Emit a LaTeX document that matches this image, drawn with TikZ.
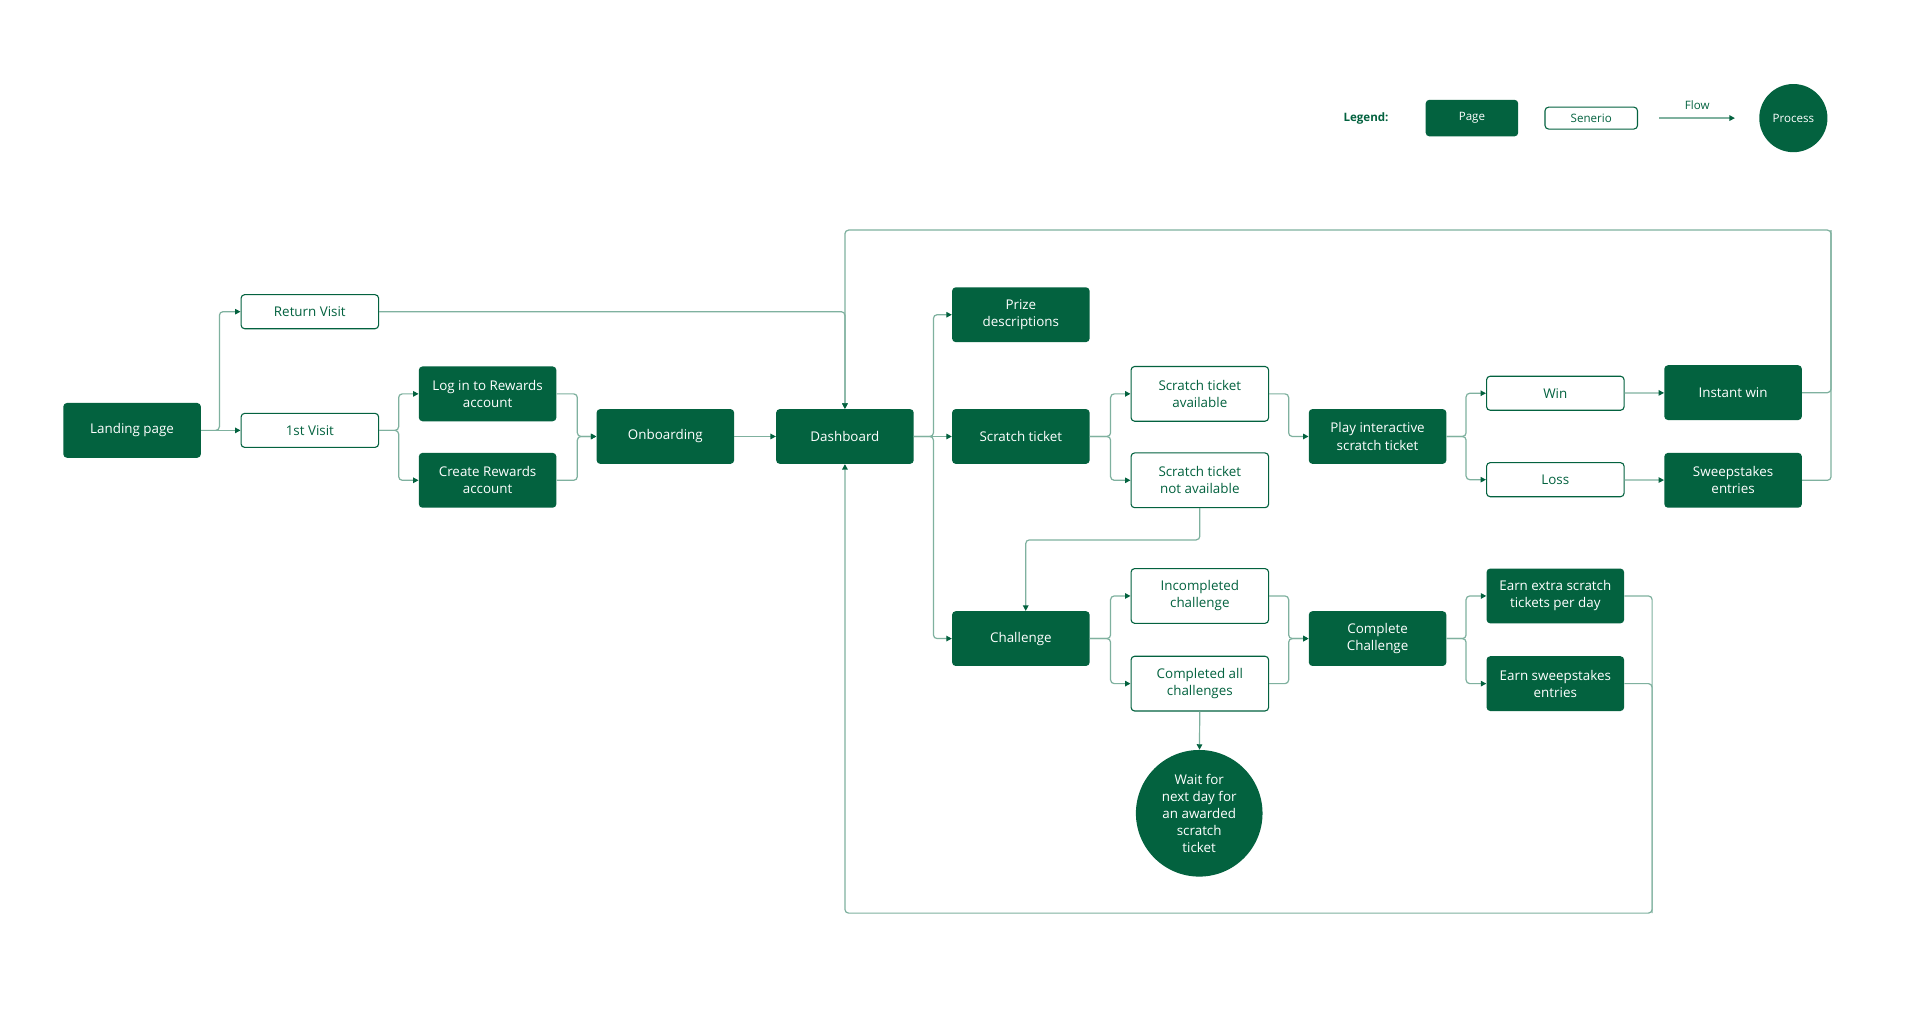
\documentclass[tikz,border=0pt]{standalone}
\usepackage{fontspec}
\setmainfont{Open Sans}
\usepackage{xcolor}
\usepackage{tikz}
\usetikzlibrary{arrows.meta, calc}
\definecolor{Forest}{HTML}{03623F}
\definecolor{Sage}  {HTML}{7FB19F}

\begin{document}
\begin{tikzpicture}[x=1pt, y=-1pt,
    page/.style={fill=Forest, text=white, rounded corners=3pt, minimum width=113pt,
                 minimum height=45pt, inner sep=0pt, align=center,
                 font=\fontsize{11}{14}\selectfont},
    scen/.style={page, fill=white, draw=Forest, line width=0.9pt, text=Forest},
    oneline/.style={minimum height=28pt},
    proc/.style={circle, fill=Forest, text=white, inner sep=0pt, align=center,
                 font=\fontsize{11}{14}\selectfont},
    flow/.style={draw=Sage, line width=1pt, rounded corners=3pt,
                 -{Triangle[length=4.5pt, width=4.5pt, Forest]}},
    link/.style={draw=Sage, line width=1pt, rounded corners=3pt}]
      \useasboundingbox[fill=white] (0,0) rectangle (1568,838);

      % legend
      \node[text=Forest, font=\bfseries\fontsize{9.5}{11}\selectfont] (leg) at (1122,97) {Legend:};
      \node[page, minimum width=76pt, minimum height=30pt, font=\fontsize{9.5}{11}\selectfont] (legpage) at (1209,97) {Page};
      \node[scen, minimum width=76pt, minimum height=18pt, font=\fontsize{9.5}{11}\selectfont] (legscen) at (1307,97) {Senerio};
      \coordinate (flowA) at (1363,97);
      \coordinate (flowB) at (1425,97);
      \draw[flow] (flowA) -- (flowB);
      \node[text=Forest, font=\fontsize{9.5}{11}\selectfont] (legflow) at (1394,86) {Flow};
      \node[proc, minimum size=56pt, font=\fontsize{9.5}{11}\selectfont] (legproc) at (1473,97) {Process};

      % pages and scenarios
      \node[page] (land) at (108.5,353.5) {Landing page};
      \node[scen, oneline] (ret) at (254.5,256) {Return Visit};
      \node[scen, oneline] (first) at (254.5,353.5) {1st Visit};
      \node[page] (login) at (400.5,323.5) {Log in to Rewards\\account};
      \node[page] (create) at (400.5,394.5) {Create Rewards\\account};
      \node[page] (onb) at (546.5,358.5) {Onboarding};
      \node[page] (dash) at (694,358.5) {Dashboard};
      \node[page] (prize) at (838.5,258.5) {Prize\\descriptions};
      \node[page] (scratch) at (838.5,358.5) {Scratch ticket};
      \node[scen] (avail) at (985.5,323.5) {Scratch ticket\\available};
      \node[scen] (notavail) at (985.5,394.5) {Scratch ticket\\not available};
      \node[page] (play) at (1131.5,358.5) {Play interactive\\scratch ticket};
      \node[scen, oneline] (win) at (1277.5,323) {Win};
      \node[scen, oneline] (loss) at (1277.5,394) {Loss};
      \node[page] (instant) at (1423.5,322.5) {Instant win};
      \node[page] (sweep) at (1423.5,394.5) {Sweepstakes\\entries};
      \node[page] (chal) at (838.5,524.5) {Challenge};
      \node[scen] (incomp) at (985.5,489.5) {Incompleted\\challenge};
      \node[scen] (compall) at (985.5,561.5) {Completed all\\challenges};
      \node[page] (compch) at (1131.5,524.5) {Complete\\Challenge};
      \node[page] (earnx) at (1277.5,489.5) {Earn extra scratch\\tickets per day};
      \node[page] (earns) at (1277.5,561.5) {Earn sweepstakes\\entries};
      \node[proc, minimum size=104pt] (wait) at (985,668) {Wait for\\next day for\\an awarded\\scratch\\ticket};

      \coordinate (topR) at (1504,189);
      \coordinate (topL) at (dash.north |- topR);
      \coordinate (botR) at (1357,750);
      \coordinate (chalIn) at ($(chal.north)+(4,0)$);

      % flows
      \draw[flow] (land.east) -- ++(15,0) |- (ret.west);
      \draw[flow] (land) -- (first);
      \draw[flow] (first.east) -- ++(16,0) |- (login.west);
      \draw[flow] (first.east) -- ++(16,0) |- (create.west);
      \draw[flow] (login.east) -- ++(17,0) |- (onb.west);
      \draw[flow] (create.east) -- ++(17,0) |- (onb.west);
      \draw[flow] (onb) -- (dash);
      \draw[flow] (ret.east) -| (dash.north);
      \draw[flow] (dash.east) -- ++(16,0) |- (prize.west);
      \draw[flow] (dash) -- (scratch);
      \draw[flow] (dash.east) -- ++(16,0) |- (chal.west);
      \draw[flow] (scratch.east) -- ++(17,0) |- (avail.west);
      \draw[flow] (scratch.east) -- ++(17,0) |- (notavail.west);
      \draw[flow] (avail.east) -- ++(16,0) |- (play.west);
      \draw[flow] (notavail.south) -- ++(0,26) -| (chalIn);
      \draw[flow] (play.east) -- ++(16,0) |- (win.west);
      \draw[flow] (play.east) -- ++(16,0) |- (loss.west);
      \draw[flow] (win) -- (instant);
      \draw[flow] (loss) -- (sweep);
      \draw[flow] (instant.east) -| (topR) -- (topL) -- (dash.north);
      \draw[link] (sweep.east) -| (topR);
      \draw[flow] (chal.east) -- ++(17,0) |- (incomp.west);
      \draw[flow] (chal.east) -- ++(17,0) |- (compall.west);
      \draw[flow] (incomp.east) -- ++(16,0) |- (compch.west);
      \draw[flow] (compall.east) -- ++(16,0) |- (compch.west);
      \draw[flow] (compch.east) -- ++(16,0) |- (earnx.west);
      \draw[flow] (compch.east) -- ++(16,0) |- (earns.west);
      \draw[flow] (earnx.east) -| (botR) -| (dash.south);
      \draw[link] (earns.east) -| (botR);
      \draw[flow] (compall) -- (wait);
    \end{tikzpicture}
\end{document}
